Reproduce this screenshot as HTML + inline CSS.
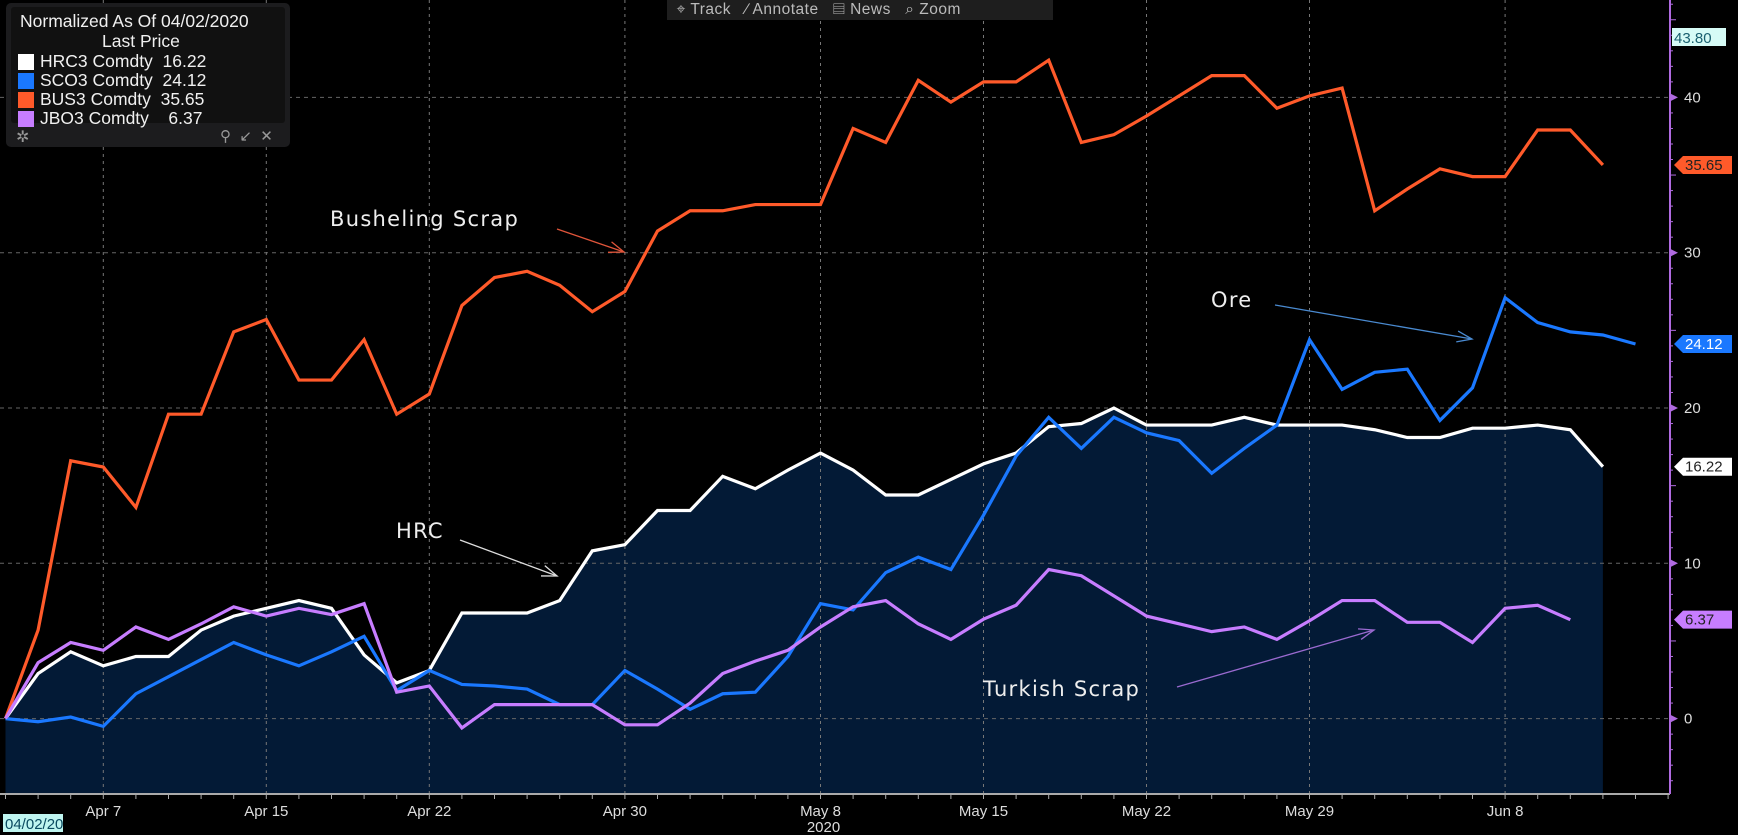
<!DOCTYPE html>
<html><head><meta charset="utf-8">
<style>
html,body{margin:0;padding:0;background:#000;width:1738px;height:835px;overflow:hidden;font-family:"Liberation Sans",sans-serif}
#legend{position:absolute;left:6px;top:3px;width:284px;height:144px;background:#1c1c1e;border-radius:5px;color:#eee}
#legend .inner{position:absolute;left:5px;top:4px;width:274px;height:116px;background:#111;border-radius:3px}
.lt{position:absolute;font-size:17.5px;white-space:pre;color:#f0f0f0}
.sw{position:absolute;left:12px;width:16px;height:16px}
#toolbar{position:absolute;left:667px;top:0;width:386px;height:20px;background:#1e1e1e;color:#bbb;font-size:15.5px;line-height:20px;white-space:pre;letter-spacing:0.5px}
</style></head><body>
<svg id="chart" width="1738" height="835" style="position:absolute;left:0;top:0"></svg>

<div id="toolbar">  <span>⌖ Track</span>   <span>∕ Annotate</span>   <span>▤ News</span>   <span>⌕ Zoom</span></div>

<div id="legend">
 <div class="inner"></div>
 <div class="lt" style="left:14px;top:8px">Normalized As Of 04/02/2020</div>
 <div class="lt" style="left:96px;top:28px">Last Price</div>
 <div class="sw" style="top:51px;background:#fff"></div>
 <div class="lt" style="left:34px;top:48px">HRC3 Comdty  16.22</div>
 <div class="sw" style="top:70px;background:#1a78ff"></div>
 <div class="lt" style="left:34px;top:67px">SCO3 Comdty  24.12</div>
 <div class="sw" style="top:89px;background:#ff5a2a"></div>
 <div class="lt" style="left:34px;top:86px">BUS3 Comdty  35.65</div>
 <div class="sw" style="top:108px;background:#c77dff"></div>
 <div class="lt" style="left:34px;top:105px">JBO3 Comdty    6.37</div>
 <div class="lt" style="left:10px;top:124px;color:#999;font-size:16px">✲</div>
 <div class="lt" style="left:214px;top:124px;color:#999;font-size:15px;white-space:pre">⚲  ↙  ✕</div>
</div>

<script>
const hrc=[0,2.9,4.3,3.4,4.0,4.0,5.7,6.6,7.1,7.6,7.1,4.1,2.3,3.1,6.8,6.8,6.8,7.6,10.8,11.2,13.4,13.4,15.6,14.8,16.0,17.1,16.0,14.4,14.4,15.4,16.4,17.1,18.8,19.0,20.0,18.9,18.9,18.9,19.4,18.9,18.9,18.9,18.6,18.1,18.1,18.7,18.7,18.9,18.6,16.22];
const bus=[0,5.7,16.6,16.2,13.6,19.6,19.6,24.9,25.7,21.8,21.8,24.4,19.6,20.9,26.6,28.4,28.8,27.9,26.2,27.5,31.4,32.7,32.7,33.1,33.1,33.1,38.0,37.1,41.1,39.7,41.0,41.0,42.4,37.1,37.6,38.8,40.1,41.4,41.4,39.3,40.1,40.6,32.7,34.1,35.4,34.9,34.9,37.9,37.9,35.65];
const sco=[0,-0.2,0.1,-0.5,1.6,2.7,3.8,4.9,4.1,3.4,4.3,5.3,1.8,3.1,2.2,2.1,1.9,0.9,0.9,3.1,1.9,0.6,1.6,1.7,4.0,7.4,7.0,9.4,10.4,9.6,13.1,16.9,19.4,17.4,19.4,18.4,17.9,15.8,17.4,18.9,24.4,21.2,22.3,22.5,19.2,21.3,27.1,25.5,24.9,24.7,24.12];
const jbo=[0,3.6,4.9,4.4,5.9,5.1,6.1,7.2,6.6,7.1,6.7,7.4,1.7,2.1,-0.6,0.9,0.9,0.9,0.9,-0.4,-0.4,1.0,2.9,3.7,4.4,5.9,7.2,7.6,6.1,5.1,6.4,7.3,9.6,9.2,7.9,6.6,6.1,5.6,5.9,5.1,6.3,7.6,7.6,6.2,6.2,4.9,7.1,7.3,6.37];
const xTickLabels=["Apr 7","Apr 15","Apr 22","Apr 30","May 8","May 15","May 22","May 29","Jun 8"];
const xTickIdx=[3,8,13,19,25,30,35,40,46];
const yTicks=[0,10,20,30,40];
const lastLabels=["16.22","24.12","35.65","6.37"];
const NPTS=52;

const svg=document.getElementById('chart');
const NS='http://www.w3.org/2000/svg';
const X=i=>5.5+32.6*i;
const Y=v=>718.6-15.53*v;
const AXR=1670, AXB=794;
function mk(t,a,parent){const e=document.createElementNS(NS,t);for(const k in a)e.setAttribute(k,a[k]);(parent||svg).appendChild(e);return e;}

let d='M'+X(0)+','+AXB;hrc.forEach((v,i)=>d+=' L'+X(i)+','+Y(v));d+=' L'+X(hrc.length-1)+','+AXB+'Z';
let f=mk('path',{d:d,fill:'#031a36'});



yTicks.forEach(v=>{const g=mk('line',{x1:0,x2:AXR,y1:Y(v),y2:Y(v),stroke:'#666','stroke-dasharray':'4,4','stroke-width':1});

});
xTickIdx.forEach(i=>{const g=mk('line',{x1:X(i),x2:X(i),y1:0,y2:AXB,stroke:'#777','stroke-dasharray':'3,4','stroke-width':1});

});

function line(arr,color,name){let p=arr.map((v,i)=>X(i)+','+Y(v)).join(' ');
const e=mk('polyline',{points:p,fill:'none',stroke:color,'stroke-width':3.2,'stroke-linejoin':'miter'});

}
line(bus,'#ff5a2a','bus-line');
line(hrc,'#ffffff','hrc-line');
line(sco,'#1a78ff','sco-line');
line(jbo,'#c77dff','jbo-line');

let ax=mk('line',{x1:0,x2:AXR,y1:AXB,y2:AXB,stroke:'#aaa','stroke-width':2});


for(let i=0;i<NPTS;i++){const t=mk('line',{x1:X(i),x2:X(i),y1:AXB,y2:AXB+5,stroke:'#aaa'});

}
xTickIdx.forEach((i,k)=>{const t=mk('text',{x:X(i),y:AXB+22,fill:'#ddd','font-size':15,'text-anchor':'middle'});t.textContent=xTickLabels[k];

});
let yr=mk('text',{x:X(25)+3,y:AXB+38,fill:'#ddd','font-size':15,'text-anchor':'middle'});yr.textContent='2020';


let sd=mk('rect',{x:3,y:814,width:60,height:18,fill:'#bff5f0'});


let st=mk('text',{x:5,y:829,fill:'#0a4a60','font-size':15});st.textContent='04/02/20';



let ra=mk('line',{x1:AXR,x2:AXR,y1:0,y2:AXB,stroke:'#b06ae0','stroke-width':2});


for(let v=-4;v<=46;v+=1){const t=mk('line',{x1:AXR,x2:AXR+(v%5==0?6:3),y1:Y(v),y2:Y(v),stroke:'#b06ae0'});

}
yTicks.forEach(v=>{mk('path',{d:`M${AXR},${Y(v)-4} L${AXR+8},${Y(v)} L${AXR},${Y(v)+4}Z`,fill:'#b06ae0'});
const t=mk('text',{x:AXR+14,y:Y(v)+5,fill:'#ddd','font-size':15});t.textContent=v;

});

let tb=mk('rect',{x:AXR+2,y:28,width:54,height:18,fill:'#d6fbf6'});


let tt=mk('text',{x:AXR+4,y:43,fill:'#1a6070','font-size':15});tt.textContent='43.80';



const tagVals=[hrc[hrc.length-1],sco[sco.length-1],bus[bus.length-1],jbo[jbo.length-1]];
const tagCols=[['#fff','#222'],['#1a78ff','#fff'],['#ff5a2a','#222'],['#c77dff','#222']];
tagVals.forEach((v,k)=>{const y=Y(v);
const p=mk('path',{d:`M${AXR+4},${y} L${AXR+13},${y-9} L${AXR+62},${y-9} L${AXR+62},${y+9} L${AXR+13},${y+9}Z`,fill:tagCols[k][0]});


const t=mk('text',{x:AXR+15,y:y+5,fill:tagCols[k][1],'font-size':15});t.textContent=lastLabels[k];

});

function ann(txt,tx,ty,x1,y1,x2,y2,col,name){
const t=mk('text',{x:tx,y:ty,fill:'#eee','font-size':21,'font-family':'DejaVu Sans, sans-serif','letter-spacing':'1.3'});t.textContent=txt;


mk('line',{x1:x1,y1:y1,x2:x2,y2:y2,stroke:col,'stroke-width':1.3});
const a=Math.atan2(y2-y1,x2-x1),L=16;
const p=mk('polyline',{points:`${x2-L*Math.cos(a-0.35)},${y2-L*Math.sin(a-0.35)} ${x2},${y2} ${x2-L*Math.cos(a+0.35)},${y2-L*Math.sin(a+0.35)}`,fill:'none',stroke:col,'stroke-width':1.3});

}
ann('Busheling Scrap',330,226,557,229,624,252,'#e0553a','busheling');
ann('HRC',396,538,460,540,557,576,'#ddd','hrc');
ann('Ore',1211,307,1275,305,1472,339,'#4a8ad0','ore');
ann('Turkish Scrap',983,696,1177,687,1374,630,'#9a6ad0','turkish');
</script>
</body></html>
